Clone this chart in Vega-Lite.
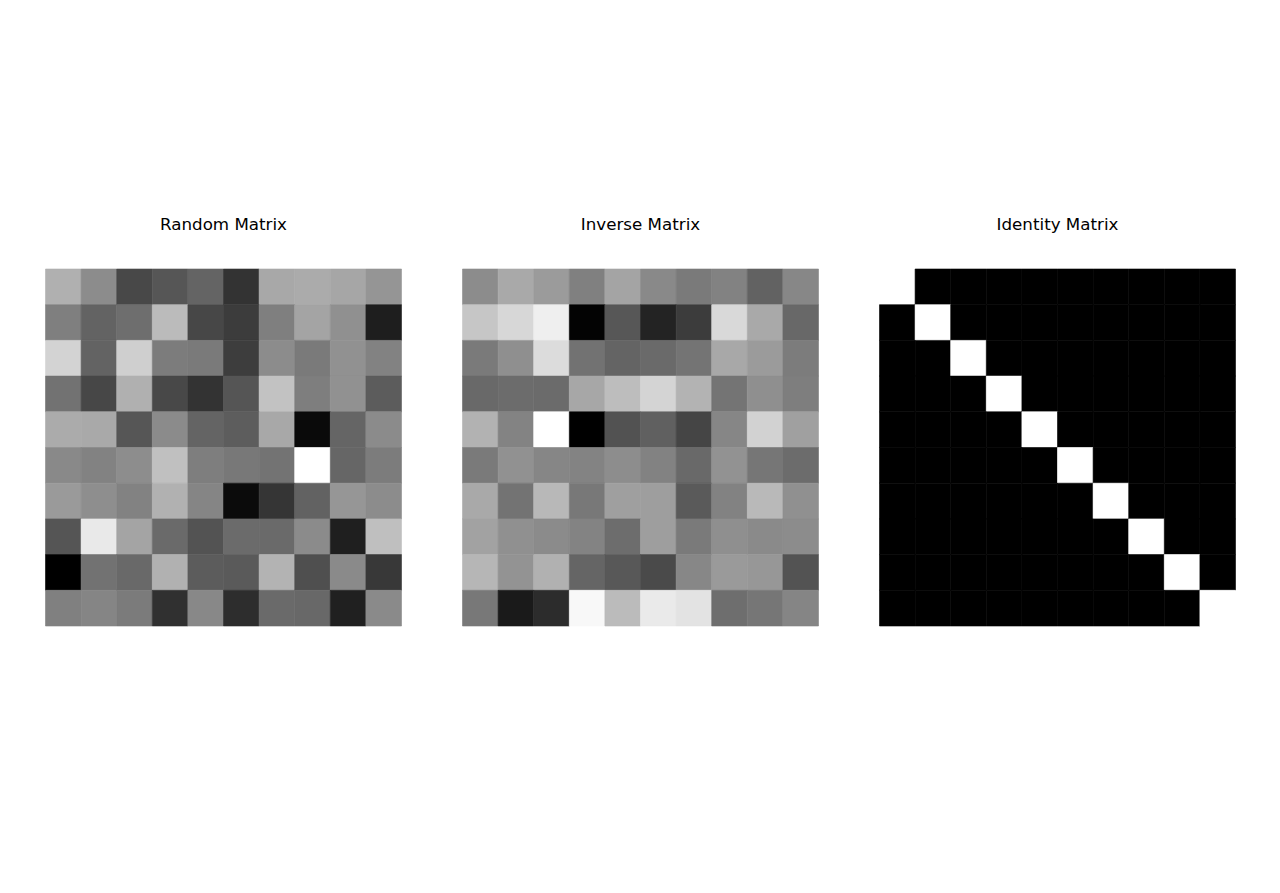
{
  "$schema": "https://vega.github.io/schema/vega-lite/v6.json",
  "background": "white",
  "padding": {"left": 44.5, "top": 217, "right": 0, "bottom": 0},
  "spacing": 59,
  "config": {
    "view": {"stroke": null},
    "title": {"font": "DejaVu Sans", "fontSize": 16.7, "fontWeight": "normal", "color": "black", "offset": 35}
  },
  "datasets": {
    "A": [
      {"r":0,"c":0,"v":176},{"r":0,"c":1,"v":140},{"r":0,"c":2,"v":72},{"r":0,"c":3,"v":86},{"r":0,"c":4,"v":100},{"r":0,"c":5,"v":51},{"r":0,"c":6,"v":168},{"r":0,"c":7,"v":171},{"r":0,"c":8,"v":166},{"r":0,"c":9,"v":149},
      {"r":1,"c":0,"v":127},{"r":1,"c":1,"v":99},{"r":1,"c":2,"v":110},{"r":1,"c":3,"v":187},{"r":1,"c":4,"v":71},{"r":1,"c":5,"v":60},{"r":1,"c":6,"v":127},{"r":1,"c":7,"v":164},{"r":1,"c":8,"v":144},{"r":1,"c":9,"v":30},
      {"r":2,"c":0,"v":211},{"r":2,"c":1,"v":99},{"r":2,"c":2,"v":207},{"r":2,"c":3,"v":124},{"r":2,"c":4,"v":122},{"r":2,"c":5,"v":61},{"r":2,"c":6,"v":140},{"r":2,"c":7,"v":122},{"r":2,"c":8,"v":145},{"r":2,"c":9,"v":130},
      {"r":3,"c":0,"v":114},{"r":3,"c":1,"v":71},{"r":3,"c":2,"v":176},{"r":3,"c":3,"v":72},{"r":3,"c":4,"v":51},{"r":3,"c":5,"v":85},{"r":3,"c":6,"v":194},{"r":3,"c":7,"v":126},{"r":3,"c":8,"v":145},{"r":3,"c":9,"v":92},
      {"r":4,"c":0,"v":171},{"r":4,"c":1,"v":169},{"r":4,"c":2,"v":86},{"r":4,"c":3,"v":139},{"r":4,"c":4,"v":100},{"r":4,"c":5,"v":93},{"r":4,"c":6,"v":168},{"r":4,"c":7,"v":10},{"r":4,"c":8,"v":101},{"r":4,"c":9,"v":139},
      {"r":5,"c":0,"v":137},{"r":5,"c":1,"v":130},{"r":5,"c":2,"v":141},{"r":5,"c":3,"v":192},{"r":5,"c":4,"v":126},{"r":5,"c":5,"v":120},{"r":5,"c":6,"v":115},{"r":5,"c":7,"v":255},{"r":5,"c":8,"v":102},{"r":5,"c":9,"v":124},
      {"r":6,"c":0,"v":154},{"r":6,"c":1,"v":142},{"r":6,"c":2,"v":130},{"r":6,"c":3,"v":177},{"r":6,"c":4,"v":133},{"r":6,"c":5,"v":11},{"r":6,"c":6,"v":53},{"r":6,"c":7,"v":98},{"r":6,"c":8,"v":150},{"r":6,"c":9,"v":140},
      {"r":7,"c":0,"v":85},{"r":7,"c":1,"v":233},{"r":7,"c":2,"v":164},{"r":7,"c":3,"v":106},{"r":7,"c":4,"v":83},{"r":7,"c":5,"v":107},{"r":7,"c":6,"v":106},{"r":7,"c":7,"v":139},{"r":7,"c":8,"v":31},{"r":7,"c":9,"v":191},
      {"r":8,"c":0,"v":0},{"r":8,"c":1,"v":114},{"r":8,"c":2,"v":105},{"r":8,"c":3,"v":177},{"r":8,"c":4,"v":92},{"r":8,"c":5,"v":90},{"r":8,"c":6,"v":179},{"r":8,"c":7,"v":79},{"r":8,"c":8,"v":138},{"r":8,"c":9,"v":56},
      {"r":9,"c":0,"v":128},{"r":9,"c":1,"v":133},{"r":9,"c":2,"v":123},{"r":9,"c":3,"v":48},{"r":9,"c":4,"v":136},{"r":9,"c":5,"v":45},{"r":9,"c":6,"v":106},{"r":9,"c":7,"v":104},{"r":9,"c":8,"v":32},{"r":9,"c":9,"v":138}
    ],
    "B": [
      {"r":0,"c":0,"v":140},{"r":0,"c":1,"v":169},{"r":0,"c":2,"v":155},{"r":0,"c":3,"v":128},{"r":0,"c":4,"v":164},{"r":0,"c":5,"v":137},{"r":0,"c":6,"v":122},{"r":0,"c":7,"v":130},{"r":0,"c":8,"v":98},{"r":0,"c":9,"v":135},
      {"r":1,"c":0,"v":198},{"r":1,"c":1,"v":215},{"r":1,"c":2,"v":239},{"r":1,"c":3,"v":3},{"r":1,"c":4,"v":87},{"r":1,"c":5,"v":35},{"r":1,"c":6,"v":60},{"r":1,"c":7,"v":217},{"r":1,"c":8,"v":169},{"r":1,"c":9,"v":104},
      {"r":2,"c":0,"v":122},{"r":2,"c":1,"v":143},{"r":2,"c":2,"v":220},{"r":2,"c":3,"v":114},{"r":2,"c":4,"v":100},{"r":2,"c":5,"v":106},{"r":2,"c":6,"v":116},{"r":2,"c":7,"v":168},{"r":2,"c":8,"v":155},{"r":2,"c":9,"v":124},
      {"r":3,"c":0,"v":105},{"r":3,"c":1,"v":108},{"r":3,"c":2,"v":107},{"r":3,"c":3,"v":167},{"r":3,"c":4,"v":189},{"r":3,"c":5,"v":212},{"r":3,"c":6,"v":179},{"r":3,"c":7,"v":116},{"r":3,"c":8,"v":143},{"r":3,"c":9,"v":126},
      {"r":4,"c":0,"v":178},{"r":4,"c":1,"v":131},{"r":4,"c":2,"v":255},{"r":4,"c":3,"v":0},{"r":4,"c":4,"v":82},{"r":4,"c":5,"v":96},{"r":4,"c":6,"v":69},{"r":4,"c":7,"v":134},{"r":4,"c":8,"v":210},{"r":4,"c":9,"v":160},
      {"r":5,"c":0,"v":122},{"r":5,"c":1,"v":145},{"r":5,"c":2,"v":134},{"r":5,"c":3,"v":131},{"r":5,"c":4,"v":141},{"r":5,"c":5,"v":130},{"r":5,"c":6,"v":105},{"r":5,"c":7,"v":146},{"r":5,"c":8,"v":118},{"r":5,"c":9,"v":108},
      {"r":6,"c":0,"v":169},{"r":6,"c":1,"v":115},{"r":6,"c":2,"v":184},{"r":6,"c":3,"v":120},{"r":6,"c":4,"v":159},{"r":6,"c":5,"v":158},{"r":6,"c":6,"v":90},{"r":6,"c":7,"v":130},{"r":6,"c":8,"v":185},{"r":6,"c":9,"v":144},
      {"r":7,"c":0,"v":162},{"r":7,"c":1,"v":144},{"r":7,"c":2,"v":139},{"r":7,"c":3,"v":131},{"r":7,"c":4,"v":109},{"r":7,"c":5,"v":158},{"r":7,"c":6,"v":122},{"r":7,"c":7,"v":143},{"r":7,"c":8,"v":138},{"r":7,"c":9,"v":140},
      {"r":8,"c":0,"v":182},{"r":8,"c":1,"v":147},{"r":8,"c":2,"v":177},{"r":8,"c":3,"v":101},{"r":8,"c":4,"v":88},{"r":8,"c":5,"v":74},{"r":8,"c":6,"v":135},{"r":8,"c":7,"v":154},{"r":8,"c":8,"v":151},{"r":8,"c":9,"v":83},
      {"r":9,"c":0,"v":120},{"r":9,"c":1,"v":26},{"r":9,"c":2,"v":44},{"r":9,"c":3,"v":248},{"r":9,"c":4,"v":187},{"r":9,"c":5,"v":234},{"r":9,"c":6,"v":227},{"r":9,"c":7,"v":110},{"r":9,"c":8,"v":118},{"r":9,"c":9,"v":133}
    ],
    "C": [
      {"r":0,"c":0,"v":255},{"r":0,"c":1,"v":0},{"r":0,"c":2,"v":0},{"r":0,"c":3,"v":0},{"r":0,"c":4,"v":0},{"r":0,"c":5,"v":0},{"r":0,"c":6,"v":0},{"r":0,"c":7,"v":0},{"r":0,"c":8,"v":0},{"r":0,"c":9,"v":0},
      {"r":1,"c":0,"v":0},{"r":1,"c":1,"v":255},{"r":1,"c":2,"v":0},{"r":1,"c":3,"v":0},{"r":1,"c":4,"v":0},{"r":1,"c":5,"v":0},{"r":1,"c":6,"v":0},{"r":1,"c":7,"v":0},{"r":1,"c":8,"v":0},{"r":1,"c":9,"v":0},
      {"r":2,"c":0,"v":0},{"r":2,"c":1,"v":0},{"r":2,"c":2,"v":255},{"r":2,"c":3,"v":0},{"r":2,"c":4,"v":0},{"r":2,"c":5,"v":0},{"r":2,"c":6,"v":0},{"r":2,"c":7,"v":0},{"r":2,"c":8,"v":0},{"r":2,"c":9,"v":0},
      {"r":3,"c":0,"v":0},{"r":3,"c":1,"v":0},{"r":3,"c":2,"v":0},{"r":3,"c":3,"v":255},{"r":3,"c":4,"v":0},{"r":3,"c":5,"v":0},{"r":3,"c":6,"v":0},{"r":3,"c":7,"v":0},{"r":3,"c":8,"v":0},{"r":3,"c":9,"v":0},
      {"r":4,"c":0,"v":0},{"r":4,"c":1,"v":0},{"r":4,"c":2,"v":0},{"r":4,"c":3,"v":0},{"r":4,"c":4,"v":255},{"r":4,"c":5,"v":0},{"r":4,"c":6,"v":0},{"r":4,"c":7,"v":0},{"r":4,"c":8,"v":0},{"r":4,"c":9,"v":0},
      {"r":5,"c":0,"v":0},{"r":5,"c":1,"v":0},{"r":5,"c":2,"v":0},{"r":5,"c":3,"v":0},{"r":5,"c":4,"v":0},{"r":5,"c":5,"v":255},{"r":5,"c":6,"v":0},{"r":5,"c":7,"v":0},{"r":5,"c":8,"v":0},{"r":5,"c":9,"v":0},
      {"r":6,"c":0,"v":0},{"r":6,"c":1,"v":0},{"r":6,"c":2,"v":0},{"r":6,"c":3,"v":0},{"r":6,"c":4,"v":0},{"r":6,"c":5,"v":0},{"r":6,"c":6,"v":255},{"r":6,"c":7,"v":0},{"r":6,"c":8,"v":0},{"r":6,"c":9,"v":0},
      {"r":7,"c":0,"v":0},{"r":7,"c":1,"v":0},{"r":7,"c":2,"v":0},{"r":7,"c":3,"v":0},{"r":7,"c":4,"v":0},{"r":7,"c":5,"v":0},{"r":7,"c":6,"v":0},{"r":7,"c":7,"v":255},{"r":7,"c":8,"v":0},{"r":7,"c":9,"v":0},
      {"r":8,"c":0,"v":0},{"r":8,"c":1,"v":0},{"r":8,"c":2,"v":0},{"r":8,"c":3,"v":0},{"r":8,"c":4,"v":0},{"r":8,"c":5,"v":0},{"r":8,"c":6,"v":0},{"r":8,"c":7,"v":0},{"r":8,"c":8,"v":255},{"r":8,"c":9,"v":0},
      {"r":9,"c":0,"v":0},{"r":9,"c":1,"v":0},{"r":9,"c":2,"v":0},{"r":9,"c":3,"v":0},{"r":9,"c":4,"v":0},{"r":9,"c":5,"v":0},{"r":9,"c":6,"v":0},{"r":9,"c":7,"v":0},{"r":9,"c":8,"v":0},{"r":9,"c":9,"v":255}
    ]
  },
  "hconcat": [
    {
      "title": "Random Matrix",
      "width": 356, "height": 357,
      "data": {"name": "A"},
      "mark": {"type": "rect", "strokeWidth": 0.6},
      "encoding": {
        "x": {"field": "c", "type": "ordinal", "axis": null, "scale": {"paddingInner": 0, "paddingOuter": 0}},
        "y": {"field": "r", "type": "ordinal", "axis": null, "scale": {"paddingInner": 0, "paddingOuter": 0}},
        "color": {"field": "v", "type": "quantitative", "legend": null, "scale": {"domain": [0, 255], "range": ["black", "white"], "interpolate": "rgb"}},
        "stroke": {"field": "v", "type": "quantitative", "legend": null, "scale": {"domain": [0, 255], "range": ["black", "white"], "interpolate": "rgb"}}
      }
    },
    {
      "title": "Inverse Matrix",
      "width": 356, "height": 357,
      "data": {"name": "B"},
      "mark": {"type": "rect", "strokeWidth": 0.6},
      "encoding": {
        "x": {"field": "c", "type": "ordinal", "axis": null, "scale": {"paddingInner": 0, "paddingOuter": 0}},
        "y": {"field": "r", "type": "ordinal", "axis": null, "scale": {"paddingInner": 0, "paddingOuter": 0}},
        "color": {"field": "v", "type": "quantitative", "legend": null, "scale": {"domain": [0, 255], "range": ["black", "white"], "interpolate": "rgb"}},
        "stroke": {"field": "v", "type": "quantitative", "legend": null, "scale": {"domain": [0, 255], "range": ["black", "white"], "interpolate": "rgb"}}
      }
    },
    {
      "title": "Identity Matrix",
      "width": 356, "height": 357,
      "data": {"name": "C"},
      "mark": {"type": "rect", "strokeWidth": 0.6},
      "encoding": {
        "x": {"field": "c", "type": "ordinal", "axis": null, "scale": {"paddingInner": 0, "paddingOuter": 0}},
        "y": {"field": "r", "type": "ordinal", "axis": null, "scale": {"paddingInner": 0, "paddingOuter": 0}},
        "color": {"field": "v", "type": "quantitative", "legend": null, "scale": {"domain": [0, 255], "range": ["black", "white"], "interpolate": "rgb"}},
        "stroke": {"field": "v", "type": "quantitative", "legend": null, "scale": {"domain": [0, 255], "range": ["black", "white"], "interpolate": "rgb"}}
      }
    }
  ]
}
